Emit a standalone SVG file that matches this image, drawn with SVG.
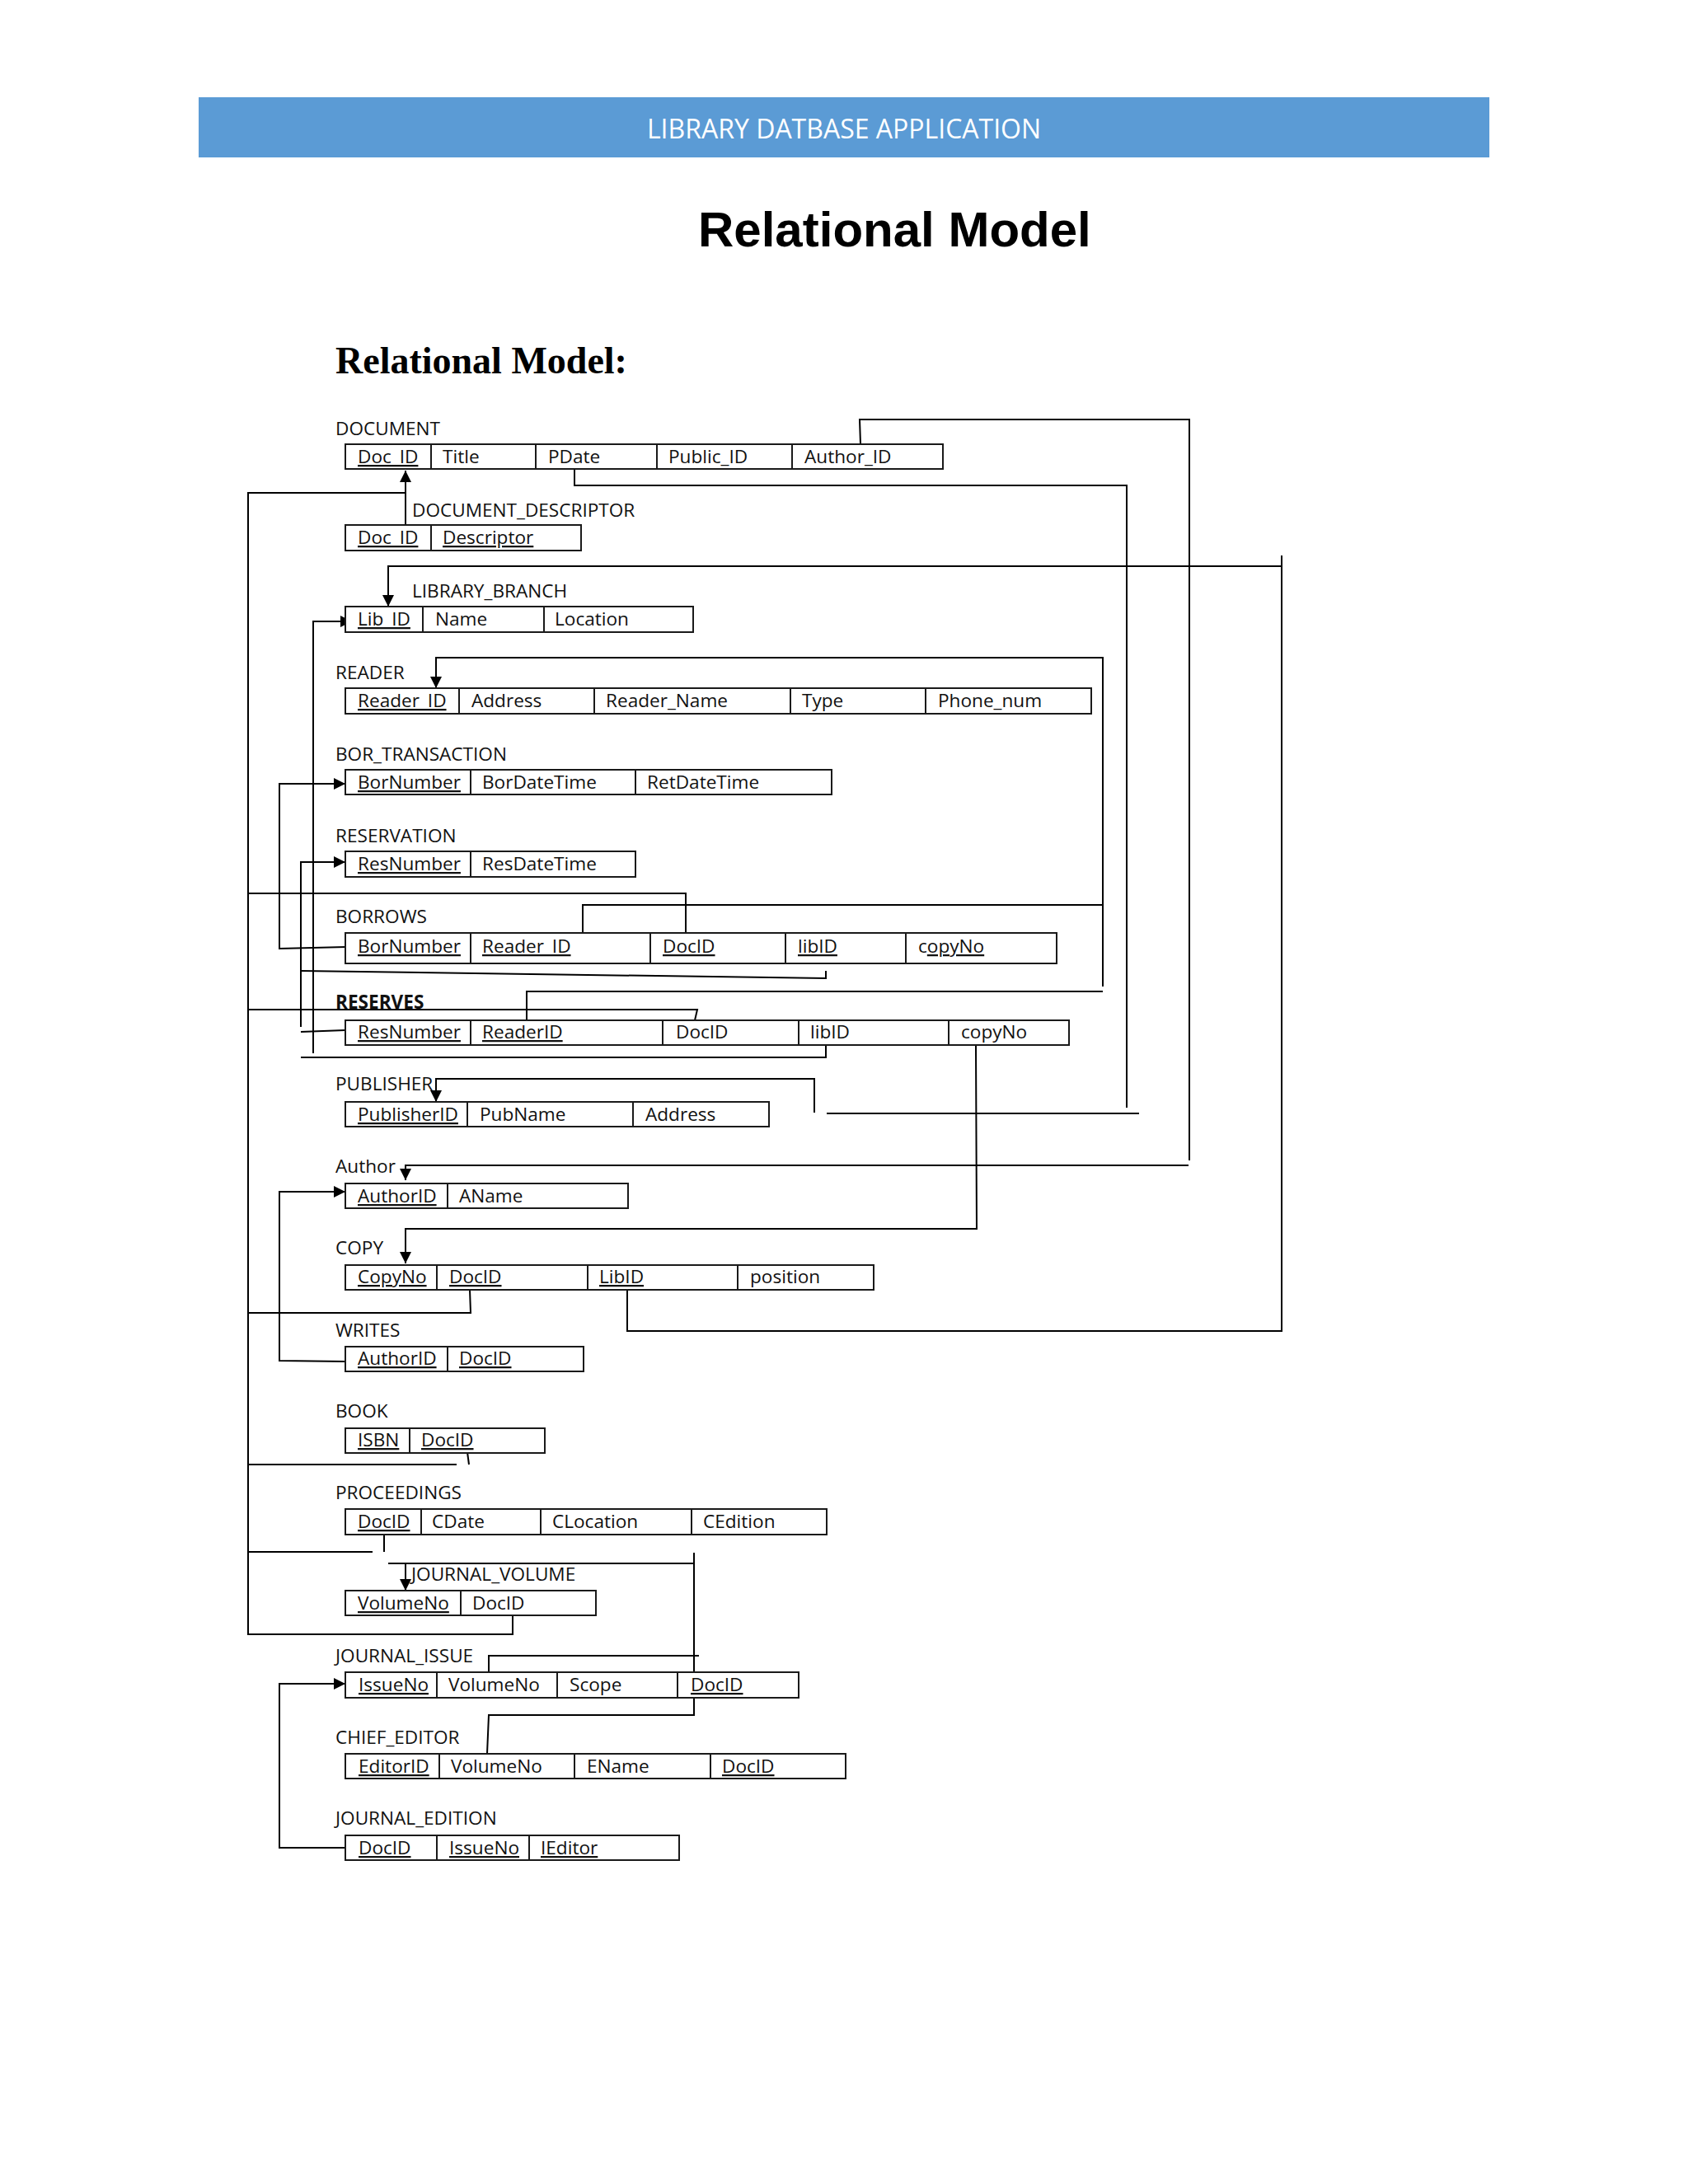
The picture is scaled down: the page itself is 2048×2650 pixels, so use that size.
<svg xmlns="http://www.w3.org/2000/svg" width="2048" height="2650" viewBox="0 0 2048 2650">
<style>
.bx{fill:#fff;stroke:#1a1a1a;stroke-width:2}
.dv{stroke:#1a1a1a;stroke-width:2}
.t{font-family:"Open Sans","Liberation Sans",sans-serif;font-size:22.6px;fill:#111}
.u{text-decoration:underline}
.b{font-weight:bold}
.c{fill:none;stroke:#000;stroke-width:2}
.a{marker-end:url(#arr)}
</style>
<defs>
<marker id="arr" markerUnits="userSpaceOnUse" markerWidth="14" markerHeight="14" refX="14" refY="7" orient="auto"><path d="M0,0 L14,7 L0,14 z" fill="#000"/></marker>
</defs>
<rect width="2048" height="2650" fill="#fff"/>
<g id="header">
<rect x="241" y="118" width="1566" height="73" fill="#5B9BD5"/>
<text x="1024" y="168" text-anchor="middle" font-family="'Open Sans','Liberation Sans',sans-serif" font-size="32" fill="#fff">LIBRARY DATBASE APPLICATION</text>
</g>
<text id="title" x="847" y="299" font-family="'Liberation Sans',Arial,sans-serif" font-weight="bold" font-size="60" fill="#000">Relational Model</text>
<text id="subtitle" x="407" y="453" font-family="'Liberation Serif','Times New Roman',serif" font-weight="bold" font-size="46" fill="#000">Relational Model:</text>

<g id="connectors">
<path class="c a" d="M492,637 V571"/>
<path class="c" d="M492,598 H301 V1983 H622 V1960"/>
<path class="c" d="M832,1132 V1084 H301"/>
<path class="c" d="M843,1238 L846,1225 H301"/>
<path class="c" d="M570,1565 L571,1593 H301"/>
<path class="c" d="M567,1762 L569,1777"/>
<path class="c" d="M554,1777 H301"/>
<path class="c" d="M466,1862 V1883"/>
<path class="c" d="M452,1883 H301"/>
<path class="c" d="M761,1565 V1615 H1555 V674"/>
<path class="c a" d="M1555,687 H471 V736"/>
<path class="c a" d="M380,1278 V754 H427"/>
<path class="c" d="M1002,1268 V1283 H365"/>
<path class="c" d="M1002,1178 V1187 L365,1178"/>
<path class="c" d="M639,1238 V1203 H1338"/>
<path class="c a" d="M1338,1197 V798 H529 V835"/>
<path class="c" d="M707,1132 V1098 H1338"/>
<path class="c a" d="M420,1149 L339,1151 V951 H419"/>
<path class="c a" d="M365,1246 V1046 H419"/>
<path class="c" d="M419,1250 L365,1252"/>
<path class="c" d="M697,569 V589 H1367 V1344"/>
<path class="c" d="M1003,1351 H1382"/>
<path class="c a" d="M988,1350 V1309 H529 V1337"/>
<path class="c" d="M1044,539 L1043,509 H1443 V1408"/>
<path class="c a" d="M1442,1414 H492 V1432"/>
<path class="c a" d="M1184,1268 L1185,1491 H492 V1533"/>
<path class="c a" d="M419,1652 L339,1651 V1446 H419"/>
<path class="c" d="M842,1884 V2081 H593 L591,2128"/>
<path class="c" d="M471,1897 H842"/>
<path class="c a" d="M492,1897 V1930"/>
<path class="c" d="M593,2029 V2009 H848"/>
<path class="c a" d="M420,2242 H339 V2043 H419"/>
</g>

<g id="DOCUMENT">
<text class="t" x="407" y="528">DOCUMENT</text>
<rect class="bx" x="419" y="539" width="725" height="30"/>
<path class="dv" d="M523,539V569M650,539V569M797,539V569M961,539V569"/>
<text class="t u" x="434" y="562">Doc_ID</text>
<text class="t" x="537" y="562">Title</text>
<text class="t" x="665" y="562">PDate</text>
<text class="t" x="811" y="562">Public_ID</text>
<text class="t" x="976" y="562">Author_ID</text>
</g>

<g id="DOCUMENT_DESCRIPTOR">
<text class="t" x="500" y="627">DOCUMENT_DESCRIPTOR</text>
<rect class="bx" x="419" y="637" width="286" height="31"/>
<path class="dv" d="M523,637V668"/>
<text class="t u" x="434" y="660">Doc_ID</text>
<text class="t u" x="537" y="660">Descriptor</text>
</g>

<g id="LIBRARY_BRANCH">
<text class="t" x="500" y="725">LIBRARY_BRANCH</text>
<rect class="bx" x="419" y="736" width="422" height="31"/>
<path class="dv" d="M513,736V767M660,736V767"/>
<text class="t u" x="434" y="759">Lib_ID</text>
<text class="t" x="528" y="759">Name</text>
<text class="t" x="673" y="759">Location</text>
</g>

<g id="READER">
<text class="t" x="407" y="824">READER</text>
<rect class="bx" x="419" y="835" width="905" height="31"/>
<path class="dv" d="M557,835V866M721,835V866M959,835V866M1123,835V866"/>
<text class="t u" x="434" y="858">Reader_ID</text>
<text class="t" x="572" y="858">Address</text>
<text class="t" x="735" y="858">Reader_Name</text>
<text class="t" x="973" y="858">Type</text>
<text class="t" x="1138" y="858">Phone_num</text>
</g>

<g id="BOR_TRANSACTION">
<text class="t" x="407" y="923">BOR_TRANSACTION</text>
<rect class="bx" x="419" y="934" width="590" height="30"/>
<path class="dv" d="M571,934V964M771,934V964"/>
<text class="t u" x="434" y="957">BorNumber</text>
<text class="t" x="585" y="957">BorDateTime</text>
<text class="t" x="785" y="957">RetDateTime</text>
</g>

<g id="RESERVATION">
<text class="t" x="407" y="1022">RESERVATION</text>
<rect class="bx" x="419" y="1033" width="352" height="31"/>
<path class="dv" d="M571,1033V1064"/>
<text class="t u" x="434" y="1056">ResNumber</text>
<text class="t" x="585" y="1056">ResDateTime</text>
</g>

<g id="BORROWS">
<text class="t" x="407" y="1120">BORROWS</text>
<rect class="bx" x="419" y="1132" width="863" height="37"/>
<path class="dv" d="M571,1132V1169M789,1132V1169M953,1132V1169M1099,1132V1169"/>
<text class="t u" x="434" y="1156">BorNumber</text>
<text class="t u" x="585" y="1156">Reader_ID</text>
<text class="t u" x="804" y="1156">DocID</text>
<text class="t u" x="968" y="1156">libID</text>
<text class="t" x="1114" y="1156">c<tspan class="u">opyNo</tspan></text>
</g>

<g id="RESERVES">
<text class="t b" x="407" y="1224">RESERVES</text>
<rect class="bx" x="419" y="1238" width="878" height="30"/>
<path class="dv" d="M571,1238V1268M804,1238V1268M969,1238V1268M1151,1238V1268"/>
<text class="t u" x="434" y="1260">ResNumber</text>
<text class="t u" x="585" y="1260">ReaderID</text>
<text class="t" x="820" y="1260">DocID</text>
<text class="t" x="983" y="1260">libID</text>
<text class="t" x="1166" y="1260">copyNo</text>
</g>

<g id="PUBLISHER">
<text class="t" x="407" y="1323">PUBLISHER</text>
<rect class="bx" x="419" y="1337" width="514" height="30"/>
<path class="dv" d="M567,1337V1367M768,1337V1367"/>
<text class="t u" x="434" y="1360">PublisherID</text>
<text class="t" x="582" y="1360">PubName</text>
<text class="t" x="783" y="1360">Address</text>
</g>

<g id="Author">
<text class="t" x="407" y="1423">Author</text>
<rect class="bx" x="419" y="1436" width="343" height="30"/>
<path class="dv" d="M543,1436V1466"/>
<text class="t u" x="434" y="1459">AuthorID</text>
<text class="t" x="557" y="1459">AName</text>
</g>

<g id="COPY">
<text class="t" x="407" y="1522">COPY</text>
<rect class="bx" x="419" y="1535" width="641" height="30"/>
<path class="dv" d="M530,1535V1565M713,1535V1565M895,1535V1565"/>
<text class="t u" x="434" y="1557">CopyNo</text>
<text class="t u" x="545" y="1557">DocID</text>
<text class="t u" x="727" y="1557">LibID</text>
<text class="t" x="910" y="1557">position</text>
</g>

<g id="WRITES">
<text class="t" x="407" y="1622">WRITES</text>
<rect class="bx" x="419" y="1634" width="289" height="30"/>
<path class="dv" d="M543,1634V1664"/>
<text class="t u" x="434" y="1656">AuthorID</text>
<text class="t u" x="557" y="1656">DocID</text>
</g>

<g id="BOOK">
<text class="t" x="407" y="1720">BOOK</text>
<rect class="bx" x="419" y="1733" width="242" height="30"/>
<path class="dv" d="M497,1733V1763"/>
<text class="t u" x="434" y="1755">ISBN</text>
<text class="t u" x="511" y="1755">DocID</text>
</g>

<g id="PROCEEDINGS">
<text class="t" x="407" y="1819">PROCEEDINGS</text>
<rect class="bx" x="419" y="1831" width="584" height="31"/>
<path class="dv" d="M511,1831V1862M656,1831V1862M839,1831V1862"/>
<text class="t u" x="434" y="1854">DocID</text>
<text class="t" x="524" y="1854">CDate</text>
<text class="t" x="670" y="1854">CLocation</text>
<text class="t" x="853" y="1854">CEdition</text>
</g>

<g id="JOURNAL_VOLUME">
<text class="t" x="499" y="1918">JOURNAL_VOLUME</text>
<rect class="bx" x="419" y="1930" width="304" height="30"/>
<path class="dv" d="M559,1930V1960"/>
<text class="t u" x="434" y="1953">VolumeNo</text>
<text class="t" x="573" y="1953">DocID</text>
</g>

<g id="JOURNAL_ISSUE">
<text class="t" x="407" y="2017">JOURNAL_ISSUE</text>
<rect class="bx" x="419" y="2029" width="550" height="31"/>
<path class="dv" d="M530,2029V2060M676,2029V2060M822,2029V2060"/>
<text class="t u" x="435" y="2052">IssueNo</text>
<text class="t" x="544" y="2052">VolumeNo</text>
<text class="t" x="691" y="2052">Scope</text>
<text class="t u" x="838" y="2052">DocID</text>
</g>

<g id="CHIEF_EDITOR">
<text class="t" x="407" y="2116">CHIEF_EDITOR</text>
<rect class="bx" x="419" y="2128" width="607" height="30"/>
<path class="dv" d="M533,2128V2158M697,2128V2158M862,2128V2158"/>
<text class="t u" x="435" y="2151">EditorID</text>
<text class="t" x="547" y="2151">VolumeNo</text>
<text class="t" x="712" y="2151">EName</text>
<text class="t u" x="876" y="2151">DocID</text>
</g>

<g id="JOURNAL_EDITION">
<text class="t" x="407" y="2214">JOURNAL_EDITION</text>
<rect class="bx" x="419" y="2227" width="405" height="30"/>
<path class="dv" d="M530,2227V2257M642,2227V2257"/>
<text class="t u" x="435" y="2250">DocID</text>
<text class="t u" x="545" y="2250">IssueNo</text>
<text class="t u" x="656" y="2250">IEditor</text>
</g>
</svg>
